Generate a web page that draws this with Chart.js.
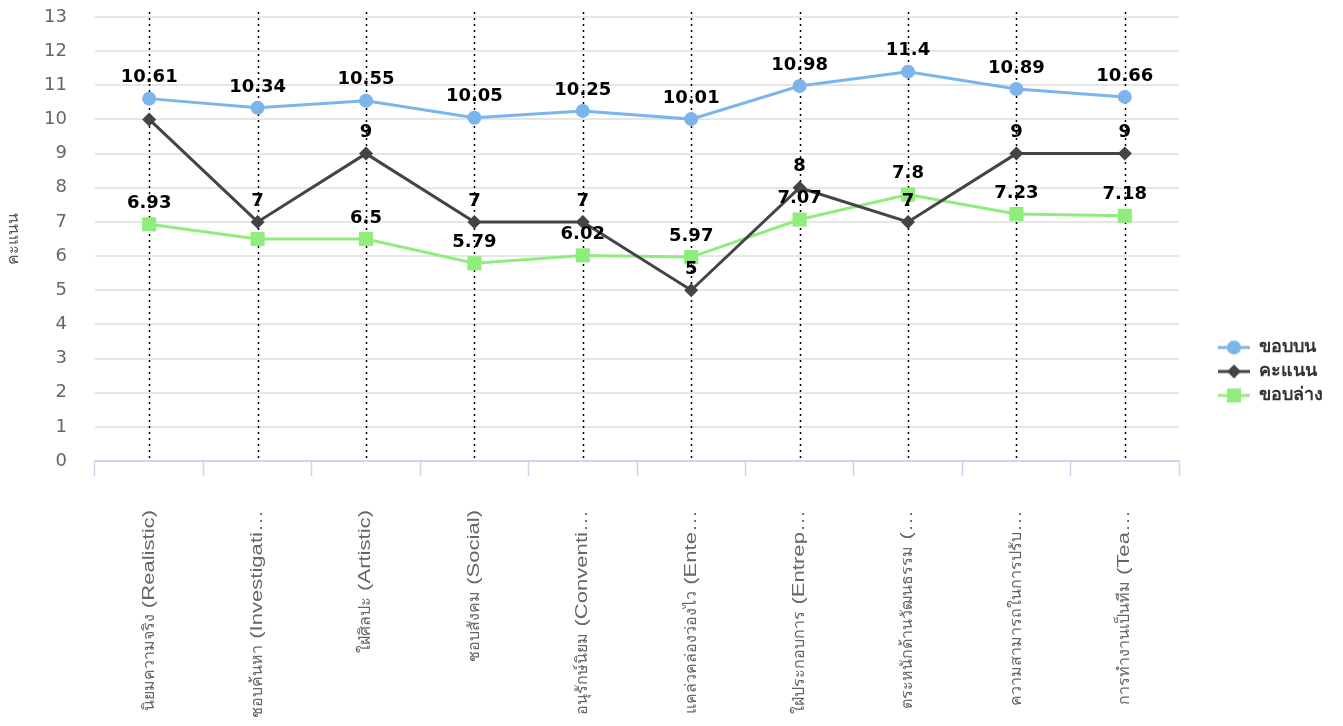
<!DOCTYPE html>
<html lang="th">
<head>
<meta charset="UTF-8">
<title>คะแนน</title>
<style>
  html, body { margin: 0; padding: 0; background: #fff; }
  #wrap { width: 1343px; height: 726px; }
</style>
<script src="https://cdn.jsdelivr.net/npm/chart.js"></script>
</head>
<body>
<div id="wrap"><canvas id="chart"></canvas></div>
<script>
const categories = [
  'นิยมความจริง (Realistic)',
  'ชอบค้นหา (Investigati…',
  'ใฝ่ศิลปะ (Artistic)',
  'ชอบสังคม (Social)',
  'อนุรักษ์นิยม (Conventi…',
  'แคล่วคล่องว่องไว (Ente…',
  'ใฝ่ประกอบการ (Entrep…',
  'ตระหนักด้านวัฒนธรรม (…',
  'ความสามารถในการปรับ…',
  'การทำงานเป็นทีม (Tea…'
];
const seriesNames = ['ขอบบน', 'คะแนน', 'ขอบล่าง'];
const upperValues = [10.61, 10.34, 10.55, 10.05, 10.25, 10.01, 10.98, 11.4, 10.89, 10.66];
const scoreValues = [10, 7, 9, 7, 7, 5, 8, 7, 9, 9];
const lowerValues = [6.93, 6.5, 6.5, 5.79, 6.02, 5.97, 7.07, 7.8, 7.23, 7.18];
const yMin = 0, yMax = 13, yStep = 1;
const yTitle = 'คะแนน';

const colors = ['#7cb5ec', '#434348', '#90ed7d'];
const shapes = ['circle', 'rectRot', 'rect'];
const radii = [7, 7, 10];

// legend symbol: short line with the marker in the middle
function legendIcon(color, shape) {
  const c = document.createElement('canvas');
  c.width = 32; c.height = 18;
  const g = c.getContext('2d');
  g.strokeStyle = color; g.lineWidth = 3;
  g.beginPath(); g.moveTo(0, 9); g.lineTo(32, 9); g.stroke();
  g.fillStyle = color;
  g.beginPath();
  if (shape === 'circle') g.arc(16, 9, 7, 0, Math.PI * 2);
  else if (shape === 'rectRot') { g.moveTo(16, 2); g.lineTo(23, 9); g.lineTo(16, 16); g.lineTo(9, 9); g.closePath(); }
  else g.rect(9, 2, 14, 14);
  g.fill();
  return c;
}

// dotted vertical lines through each category
const centerLines = {
  id: 'centerLines',
  beforeDatasetsDraw(chart) {
    const {ctx, chartArea, scales} = chart;
    ctx.save();
    ctx.strokeStyle = '#000';
    ctx.lineWidth = 1.5;
    ctx.setLineDash([2, 4]);
    categories.forEach((c, i) => {
      const x = Math.round(scales.x.getPixelForValue(i)) + 0.5;
      ctx.beginPath();
      ctx.moveTo(x, chartArea.top - 5);
      ctx.lineTo(x, chartArea.bottom);
      ctx.stroke();
    });
    ctx.restore();
  }
};

// category labels, rotated; latin runs stretched along the text like the original
const stretchedLabels = {
  id: 'stretchedLabels',
  afterDraw(chart) {
    const {ctx, scales} = chart;
    const top = scales.x.top + 49;
    ctx.save();
    ctx.font = '16px "Liberation Sans", sans-serif';
    ctx.fillStyle = '#666';
    ctx.textAlign = 'right';
    ctx.textBaseline = 'middle';
    categories.forEach((c, i) => {
      ctx.save();
      ctx.translate(scales.x.getPixelForValue(i), top);
      ctx.rotate(-Math.PI / 2);
      const parts = c.match(/[\u0E00-\u0E7F]+|[^\u0E00-\u0E7F]+/g).reverse();
      let pos = 0;
      parts.forEach(p => {
        const sc = /[\u0E00-\u0E7F]/.test(p) ? 1.0 : 1.38;
        ctx.save();
        ctx.translate(pos, 0);
        ctx.scale(sc, 1);
        ctx.fillText(p, 0, 0);
        ctx.restore();
        pos -= ctx.measureText(p).width * sc;
      });
      ctx.restore();
    });
    ctx.restore();
  }
};

// value labels above points, skipping ones that would collide
const valueLabels = {
  id: 'valueLabels',
  afterDatasetsDraw(chart) {
    const ctx = chart.ctx;
    const placed = [];
    ctx.save();
    ctx.font = 'bold 18px "DejaVu Sans"';
    ctx.fillStyle = '#000';
    ctx.textAlign = 'center';
    ctx.textBaseline = 'middle';
    chart.data.datasets.forEach((ds, di) => {
      chart.getDatasetMeta(di).data.forEach((pt, i) => {
        const txt = String(ds.data[i]);
        const w = ctx.measureText(txt).width + 10;
        const h = 27;
        const cx = pt.x, cy = pt.y - 21;
        const box = {l: cx - w / 2, r: cx + w / 2, t: cy - h / 2, b: cy + h / 2};
        const hit = placed.some(p => box.l < p.r && box.r > p.l && box.t < p.b && box.b > p.t);
        if (hit) return;
        placed.push(box);
        ctx.fillText(txt, cx, cy);
      });
    });
    ctx.restore();
  }
};

const allSeries = [upperValues, scoreValues, lowerValues];

new Chart(document.getElementById('chart'), {
  type: 'line',
  data: {
    labels: categories,
    datasets: allSeries.map((vals, k) => ({
      label: seriesNames[k],
      data: vals,
      yAxisID: 'y',
      borderColor: colors[k],
      backgroundColor: colors[k],
      borderWidth: 3,
      pointStyle: shapes[k],
      pointRadius: radii[k],
      pointHoverRadius: radii[k],
      pointBorderWidth: 0,
      tension: 0
    }))
  },
  options: {
    responsive: true,
    maintainAspectRatio: false,
    animation: false,
    layout: { padding: { top: 17, right: 10, left: 0, bottom: 0 } },
    plugins: {
      tooltip: { enabled: false },
      legend: {
        position: 'right',
        labels: {
          usePointStyle: true,
          pointStyleWidth: 32,
          padding: 6,
          color: '#333',
          font: { family: '"DejaVu Sans", sans-serif', size: 18, weight: 'bold' },
          generateLabels(chart) {
            return chart.data.datasets.map((ds, k) => ({
              text: ds.label,
              fillStyle: colors[k],
              strokeStyle: colors[k],
              fontColor: '#333',
              pointStyle: legendIcon(colors[k], shapes[k]),
              lineWidth: 0,
              datasetIndex: k
            }));
          }
        }
      }
    },
    scales: {
      x: {
        offset: true,
        grid: {
          offset: true,
          drawOnChartArea: false,
          drawTicks: true,
          tickLength: 15,
          tickColor: '#ccd6eb',
          tickWidth: 1.5
        },
        border: { color: '#ccd6eb', width: 2 },
        ticks: { display: false, autoSkip: false },
        afterFit(scale) { scale.height = 265; }
      },
      y: {
        min: yMin,
        max: yMax,
        grid: { color: '#e6e6e6', lineWidth: 2, drawTicks: true, tickLength: 24, tickColor: 'rgba(0,0,0,0)' },
        border: { display: false },
        ticks: {
          stepSize: yStep,
          padding: 4,
          color: '#666',
          font: { family: '"DejaVu Sans", sans-serif', size: 18 }
        },
        title: {
          display: true,
          text: yTitle,
          color: '#555',
          padding: 4,
          font: { family: '"DejaVu Sans", sans-serif', size: 16 }
        },
        afterFit(scale) { scale.width = 95; }
      },
      // empty spacer between plot and legend
      gap: {
        type: 'linear',
        position: 'right',
        display: true,
        grid: { drawOnChartArea: false, drawTicks: false },
        border: { display: false },
        ticks: { display: false },
        afterFit(scale) { scale.width = 33; }
      }
    }
  },
  plugins: [centerLines, valueLabels, stretchedLabels]
});
</script>
</body>
</html>
